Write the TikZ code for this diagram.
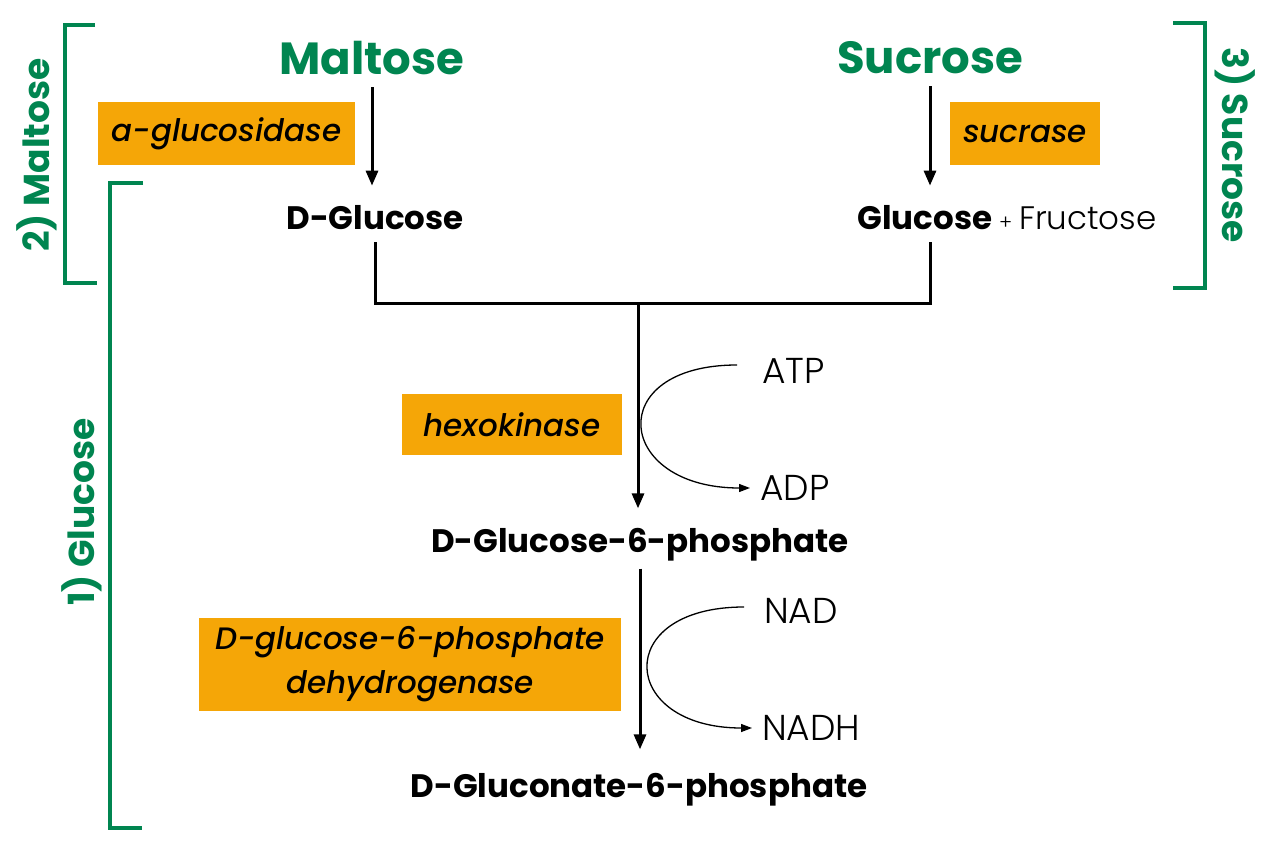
\documentclass[tikz,border=0pt]{standalone}
\usepackage{fontspec}
\setmainfont{Poppins}
\newfontfamily\enzfont{Poppins Medium Italic}
\newfontfamily\thinfont{Poppins Light}
\usepackage{tikz}
\usetikzlibrary{arrows.meta,positioning}
\definecolor{grpgreen}{RGB}{0,133,80}
\definecolor{enzorange}{RGB}{245,166,7}
\tikzset{
  % Sugar titles
  sugartitle/.style = {font=\fontsize{45}{50}\selectfont\bfseries, text=grpgreen, inner xsep=0pt, inner ysep=12pt},
  % Metabolites and cofactors
  metab/.style      = {font=\fontsize{32.5}{36}\selectfont\bfseries, inner sep=0pt},
  cofac/.style      = {font=\fontsize{36}{38}\selectfont\thinfont, anchor=west, inner xsep=10pt, inner ysep=0pt},
  % Enzyme boxes
  enzbox/.style     = {fill=enzorange, font=\fontsize{31}{44}\selectfont\enzfont, align=center, inner sep=0pt},
  % Arrows
  flowline/.style   = {line width=3pt, black},
  flowarrow/.style  = {flowline, -{Triangle[length=15pt,width=12pt]}},
  sidearrow/.style  = {line width=1.3pt, black, -{Triangle[length=11pt,width=8pt]}},
  % Group brackets
  groupline/.style  = {line width=4pt, draw=grpgreen},
  grouplab/.style   = {font=\fontsize{36}{40}\selectfont\bfseries, text=grpgreen, inner sep=0pt},
}
\begin{document}
\begin{tikzpicture}[x=1pt, y=-1pt]
  \useasboundingbox (0,0) rectangle (1280,853);
  % Sugars
  \node[sugartitle] (malt) at (372,58) {Maltose};
  \node[sugartitle] (sucr) at (930,58) {Sucrose};
  \node[enzbox, minimum width=257pt, minimum height=63pt] (aglc) at (226.5,133.5) {a-glucosidase};
  \node[enzbox, minimum width=150pt, minimum height=63pt] (sucra) at (1025,133.5) {sucrase};
  \node[metab] (dglc) at (375,218) {D-Glucose};
  \node[metab] (glcfru) at (1007,218) {Glucose {\mdseries\thinfont\fontsize{20}{20}\selectfont+} {\mdseries\thinfont Fructose}};
  % Hexokinase step
  \coordinate (jn) at (638,303);
  \node[enzbox, minimum width=220pt, minimum height=61pt] (hexo) at (512,424.5) {hexokinase};
  \node[cofac] (atp) at (752,371) {ATP};
  \node[cofac] (adp) at (750,488) {ADP};
  \node[metab] (g6p) at (640,545) {D-Glucose-6-phosphate};
  % Dehydrogenase step
  \node[enzbox, minimum width=422pt, minimum height=93pt] (g6pd) at (410,664) {D-glucose-6-phosphate\\dehydrogenase};
  \node[cofac] (nad) at (754,611) {NAD};
  \node[cofac] (nadh) at (752,728) {NADH};
  \node[metab] (glcn) at (639,790) {D-Gluconate-6-phosphate};
  % Connectors
  \draw[flowarrow, shorten >=20pt] (malt.south) -- (malt.south |- dglc.north);
  \draw[flowarrow, shorten >=20pt] (sucr.south) -- (sucr.south |- glcfru.north);
  \draw[flowline, shorten <=12pt] (dglc.south) |- (jn);
  \draw[flowline, shorten <=12pt] (sucr |- glcfru.south) |- (jn);
  \draw[flowarrow, shorten >=20pt] (jn) -- (jn |- g6p.north);
  \draw[flowarrow, shorten <=7pt, shorten >=24pt] (g6p.south) -- (g6p.south |- glcn.north);
  \draw[sidearrow] ([xshift=-15pt, yshift=6pt]atp.west) .. controls +(-135,0) and +(-135,0) .. (adp.west);
  \draw[sidearrow] ([xshift=-10pt, yshift=4pt]nad.west) .. controls +(-133,0) and +(-133,0) .. (nadh.west);
  % Group brackets
  \draw[groupline] (95,25) -- (65,25) -- (65,283) -- (97,283);
  \node[grouplab, rotate=90] (lab2) at (37,155) {2) Maltose};
  \draw[groupline] (143,183) -- (110,183) -- (110,828) -- (142,828);
  \node[grouplab, rotate=90] (lab1) at (82,512) {1) Glucose};
  \draw[groupline] (1173,23) -- (1205,23) -- (1205,288) -- (1173,288);
  \node[grouplab, rotate=-90] (lab3) at (1235,145) {3) Sucrose};
\end{tikzpicture}
\end{document}
